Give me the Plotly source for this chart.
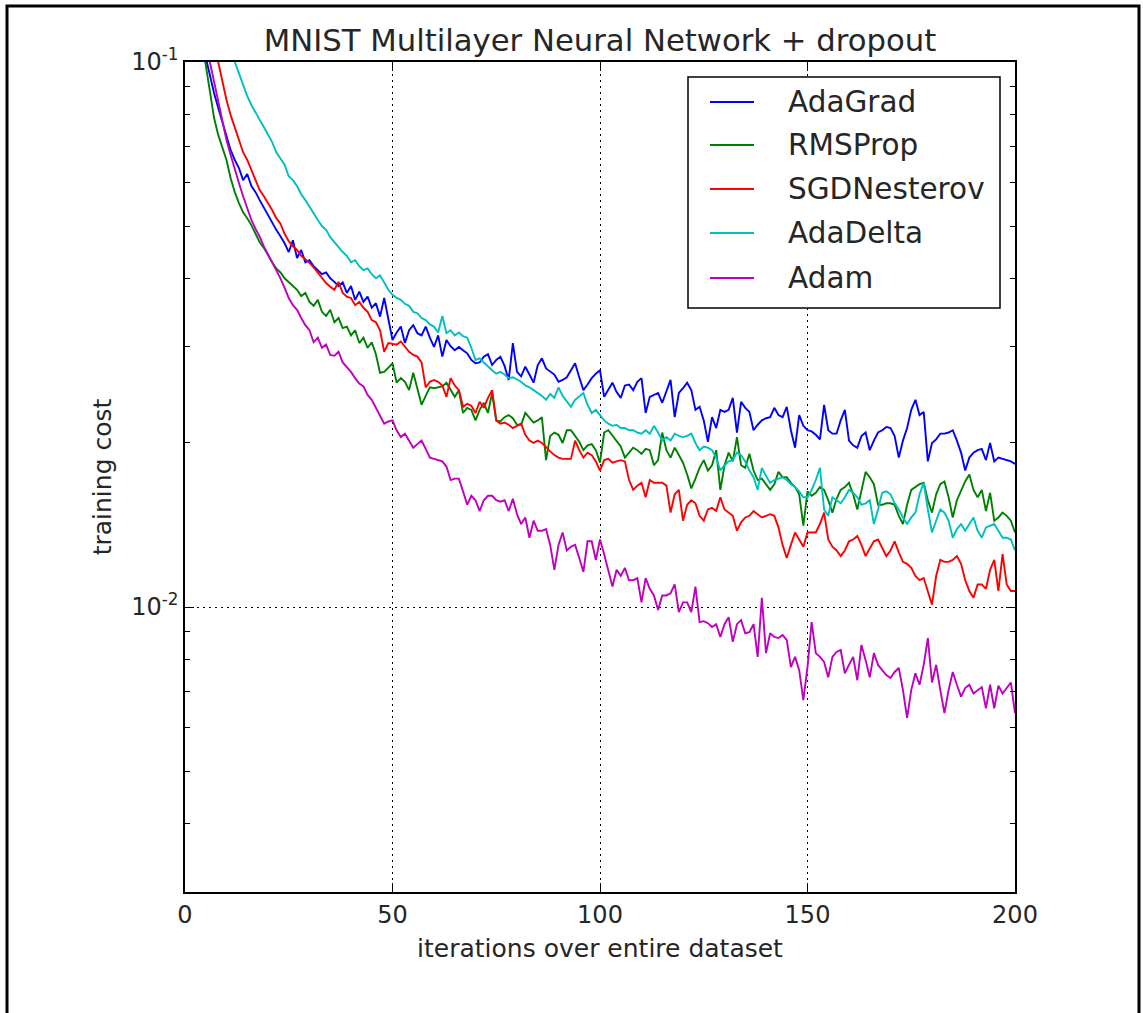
import plotly.graph_objects as go

iterations = list(range(1, 201))

adagrad = [
    0.25, 0.17, 0.13, 0.11, 0.102, 0.0935, 0.0877, 0.0824, 0.0777, 0.0731,
    0.0689, 0.0661, 0.0639, 0.0607, 0.0623, 0.0592, 0.0577, 0.0558, 0.0540, 0.0524,
    0.0509, 0.0492, 0.0479, 0.0465, 0.0448, 0.0471, 0.0437, 0.0452, 0.0429, 0.0433,
    0.0422, 0.0415, 0.0408, 0.0411, 0.0401, 0.0395, 0.0388, 0.0394, 0.0377, 0.0388,
    0.0366, 0.0379, 0.0363, 0.0371, 0.0354, 0.0361, 0.0341, 0.0369, 0.0336, 0.0309,
    0.0319, 0.0327, 0.0305, 0.0322, 0.0329, 0.0318, 0.0315, 0.0327, 0.0312, 0.0300,
    0.0315, 0.0288, 0.0309, 0.0301, 0.0296, 0.0300, 0.0296, 0.0292, 0.0284, 0.0280,
    0.0281, 0.0288, 0.0291, 0.0278, 0.0284, 0.0288, 0.0277, 0.0261, 0.0305, 0.0270,
    0.0265, 0.0276, 0.0267, 0.0258, 0.0278, 0.0286, 0.0274, 0.0270, 0.0267, 0.0259,
    0.0261, 0.0264, 0.0272, 0.0280, 0.0264, 0.0250, 0.0256, 0.0263, 0.0268, 0.0272,
    0.0243, 0.0250, 0.0258, 0.0248, 0.0242, 0.0255, 0.0256, 0.0250, 0.0259, 0.0263,
    0.0227, 0.0243, 0.0245, 0.0247, 0.0237, 0.0248, 0.0261, 0.0223, 0.0247, 0.0252,
    0.0258, 0.0250, 0.0230, 0.0233, 0.0220, 0.0201, 0.0223, 0.0213, 0.0230, 0.0228,
    0.0230, 0.0242, 0.0209, 0.0238, 0.0232, 0.0228, 0.0211, 0.0216, 0.0220, 0.0222,
    0.0223, 0.0232, 0.0225, 0.0223, 0.0233, 0.0211, 0.0196, 0.0225, 0.0215, 0.0211,
    0.0210, 0.0207, 0.0203, 0.0235, 0.0211, 0.0208, 0.0208, 0.0220, 0.0230, 0.0202,
    0.0198, 0.0196, 0.0206, 0.0209, 0.0194, 0.0202, 0.0209, 0.0211, 0.0214, 0.0213,
    0.0206, 0.0188, 0.0202, 0.0213, 0.0230, 0.0240, 0.0225, 0.0228, 0.0185, 0.0200,
    0.0203, 0.0208, 0.0208, 0.0209, 0.0211, 0.0202, 0.0192, 0.0178, 0.0188, 0.0192,
    0.0194, 0.0195, 0.0186, 0.0200, 0.0185, 0.0188, 0.0187, 0.0186, 0.0185, 0.0183,
]

rmsprop = [
    0.3, 0.18, 0.13, 0.108, 0.0988, 0.0881, 0.0790, 0.0735, 0.0695, 0.0661,
    0.0612, 0.0577, 0.0551, 0.0530, 0.0517, 0.0502, 0.0484, 0.0467, 0.0456, 0.0442,
    0.0429, 0.0418, 0.0411, 0.0401, 0.0394, 0.0388, 0.0382, 0.0372, 0.0377, 0.0363,
    0.0357, 0.0366, 0.0348, 0.0342, 0.0351, 0.0333, 0.0339, 0.0325, 0.0327, 0.0315,
    0.0322, 0.0305, 0.0312, 0.0299, 0.0306, 0.0291, 0.0269, 0.0270, 0.0275, 0.0280,
    0.0258, 0.0263, 0.0259, 0.0250, 0.0269, 0.0252, 0.0235, 0.0244, 0.0253, 0.0252,
    0.0253, 0.0254, 0.0258, 0.0250, 0.0243, 0.0250, 0.0227, 0.0232, 0.0230, 0.0220,
    0.0230, 0.0237, 0.0227, 0.0247, 0.0220, 0.0219, 0.0223, 0.0225, 0.0222, 0.0216,
    0.0216, 0.0227, 0.0222, 0.0218, 0.0220, 0.0223, 0.0186, 0.0206, 0.0209, 0.0207,
    0.0200, 0.0211, 0.0211, 0.0206, 0.0201, 0.0194, 0.0198, 0.0199, 0.0194, 0.0184,
    0.0209, 0.0211, 0.0206, 0.0202, 0.0197, 0.0188, 0.0192, 0.0196, 0.0194, 0.0191,
    0.0195, 0.0194, 0.0182, 0.0186, 0.0209, 0.0194, 0.0188, 0.0196, 0.0190, 0.0184,
    0.0175, 0.0165, 0.0172, 0.0180, 0.0186, 0.0178, 0.0182, 0.0194, 0.0164, 0.0182,
    0.0192, 0.0185, 0.0205, 0.0182, 0.0180, 0.0191, 0.0178, 0.0171, 0.0172, 0.0168,
    0.0164, 0.0168, 0.0177, 0.0173, 0.0173, 0.0169, 0.0166, 0.0161, 0.0141, 0.0163,
    0.0160, 0.0162, 0.0166, 0.0164, 0.0157, 0.0149, 0.0158, 0.0164, 0.0166, 0.0169,
    0.0161, 0.0151, 0.0164, 0.0177, 0.0173, 0.0168, 0.0154, 0.0154, 0.0155, 0.0155,
    0.0154, 0.0147, 0.0142, 0.0154, 0.0164, 0.0166, 0.0168, 0.0169, 0.0157, 0.0149,
    0.0161, 0.0168, 0.0170, 0.0159, 0.0146, 0.0157, 0.0164, 0.0170, 0.0175, 0.0164,
    0.0159, 0.0164, 0.0150, 0.0162, 0.0144, 0.0146, 0.0149, 0.0147, 0.0144, 0.0137,
]

sgd_nesterov = [
    0.5, 0.3, 0.2, 0.15, 0.125, 0.112, 0.105, 0.1000, 0.0919, 0.0852,
    0.0799, 0.0757, 0.0719, 0.0683, 0.0661, 0.0634, 0.0607, 0.0582, 0.0567, 0.0551,
    0.0535, 0.0517, 0.0505, 0.0484, 0.0469, 0.0459, 0.0452, 0.0441, 0.0435, 0.0428,
    0.0420, 0.0411, 0.0403, 0.0393, 0.0387, 0.0382, 0.0395, 0.0377, 0.0371, 0.0369,
    0.0358, 0.0363, 0.0354, 0.0348, 0.0336, 0.0333, 0.0322, 0.0294, 0.0305, 0.0304,
    0.0303, 0.0307, 0.0301, 0.0294, 0.0290, 0.0288, 0.0281, 0.0253, 0.0259, 0.0261,
    0.0259, 0.0255, 0.0243, 0.0263, 0.0255, 0.0250, 0.0233, 0.0236, 0.0234, 0.0227,
    0.0238, 0.0232, 0.0242, 0.0250, 0.0220, 0.0217, 0.0218, 0.0216, 0.0213, 0.0215,
    0.0217, 0.0207, 0.0202, 0.0200, 0.0202, 0.0200, 0.0196, 0.0193, 0.0190, 0.0188,
    0.0187, 0.0187, 0.0187, 0.0202, 0.0194, 0.0188, 0.0192, 0.0190, 0.0185, 0.0178,
    0.0186, 0.0187, 0.0184, 0.0185, 0.0186, 0.0185, 0.0171, 0.0164, 0.0167, 0.0169,
    0.0159, 0.0171, 0.0169, 0.0169, 0.0169, 0.0167, 0.0149, 0.0161, 0.0164, 0.0144,
    0.0154, 0.0157, 0.0155, 0.0147, 0.0144, 0.0151, 0.0152, 0.0150, 0.0159, 0.0151,
    0.0149, 0.0147, 0.0138, 0.0143, 0.0146, 0.0147, 0.0150, 0.0148, 0.0146, 0.0147,
    0.0148, 0.0147, 0.0140, 0.0130, 0.0123, 0.0130, 0.0137, 0.0133, 0.0129, 0.0137,
    0.0137, 0.0137, 0.0142, 0.0149, 0.0133, 0.0129, 0.0127, 0.0124, 0.0127, 0.0132,
    0.0133, 0.0135, 0.0130, 0.0124, 0.0128, 0.0132, 0.0133, 0.0128, 0.0124, 0.0127,
    0.0132, 0.0126, 0.0121, 0.0120, 0.0118, 0.0114, 0.0112, 0.0113, 0.0107, 0.0101,
    0.0114, 0.0122, 0.0121, 0.0121, 0.0122, 0.0124, 0.0120, 0.0112, 0.0107, 0.0104,
    0.0110, 0.0110, 0.0108, 0.0117, 0.0122, 0.0107, 0.0125, 0.0110, 0.0107, 0.0107,
]

adadelta = [
    0.5, 0.3, 0.22, 0.18, 0.16, 0.145, 0.132, 0.122, 0.114, 0.108,
    0.103, 0.1000, 0.0952, 0.0908, 0.0866, 0.0834, 0.0806, 0.0783, 0.0760, 0.0738,
    0.0713, 0.0683, 0.0667, 0.0648, 0.0617, 0.0607, 0.0592, 0.0572, 0.0558, 0.0542,
    0.0528, 0.0513, 0.0500, 0.0492, 0.0477, 0.0467, 0.0456, 0.0448, 0.0441, 0.0429,
    0.0433, 0.0422, 0.0415, 0.0418, 0.0408, 0.0401, 0.0406, 0.0394, 0.0382, 0.0374,
    0.0369, 0.0366, 0.0360, 0.0357, 0.0348, 0.0346, 0.0339, 0.0336, 0.0330, 0.0327,
    0.0319, 0.0342, 0.0318, 0.0322, 0.0315, 0.0319, 0.0314, 0.0312, 0.0299, 0.0284,
    0.0286, 0.0281, 0.0277, 0.0272, 0.0268, 0.0270, 0.0267, 0.0263, 0.0264, 0.0261,
    0.0259, 0.0255, 0.0253, 0.0250, 0.0247, 0.0244, 0.0240, 0.0246, 0.0242, 0.0253,
    0.0244, 0.0238, 0.0233, 0.0240, 0.0244, 0.0247, 0.0235, 0.0227, 0.0230, 0.0225,
    0.0220, 0.0217, 0.0215, 0.0216, 0.0213, 0.0213, 0.0211, 0.0211, 0.0209, 0.0208,
    0.0211, 0.0208, 0.0215, 0.0209, 0.0202, 0.0205, 0.0202, 0.0208, 0.0206, 0.0205,
    0.0206, 0.0208, 0.0200, 0.0194, 0.0197, 0.0196, 0.0194, 0.0188, 0.0178, 0.0182,
    0.0185, 0.0186, 0.0192, 0.0190, 0.0185, 0.0178, 0.0173, 0.0164, 0.0180, 0.0174,
    0.0169, 0.0171, 0.0172, 0.0173, 0.0171, 0.0168, 0.0166, 0.0163, 0.0159, 0.0159,
    0.0164, 0.0171, 0.0180, 0.0151, 0.0147, 0.0159, 0.0157, 0.0155, 0.0159, 0.0164,
    0.0162, 0.0159, 0.0154, 0.0155, 0.0157, 0.0142, 0.0151, 0.0162, 0.0163, 0.0161,
    0.0155, 0.0151, 0.0146, 0.0142, 0.0146, 0.0149, 0.0161, 0.0169, 0.0151, 0.0137,
    0.0144, 0.0151, 0.0149, 0.0144, 0.0134, 0.0139, 0.0142, 0.0138, 0.0142, 0.0146,
    0.0138, 0.0134, 0.0140, 0.0141, 0.0142, 0.0138, 0.0134, 0.0134, 0.0133, 0.0127,
]

adam = [
    0.3, 0.2, 0.14, 0.115, 0.104, 0.1000, 0.0919, 0.0841, 0.0777, 0.0719,
    0.0675, 0.0634, 0.0600, 0.0567, 0.0540, 0.0513, 0.0494, 0.0478, 0.0459, 0.0444,
    0.0428, 0.0415, 0.0401, 0.0385, 0.0369, 0.0358, 0.0351, 0.0339, 0.0329, 0.0322,
    0.0306, 0.0312, 0.0299, 0.0303, 0.0290, 0.0289, 0.0294, 0.0281, 0.0276, 0.0270,
    0.0263, 0.0257, 0.0254, 0.0245, 0.0240, 0.0232, 0.0223, 0.0217, 0.0219, 0.0220,
    0.0211, 0.0205, 0.0208, 0.0202, 0.0196, 0.0199, 0.0202, 0.0195, 0.0188, 0.0187,
    0.0186, 0.0185, 0.0181, 0.0171, 0.0172, 0.0172, 0.0163, 0.0154, 0.0160, 0.0157,
    0.0150, 0.0157, 0.0160, 0.0160, 0.0157, 0.0156, 0.0157, 0.0150, 0.0158, 0.0148,
    0.0142, 0.0146, 0.0134, 0.0144, 0.0138, 0.0138, 0.0139, 0.0130, 0.0117, 0.0130,
    0.0137, 0.0127, 0.0129, 0.0130, 0.0123, 0.0116, 0.0132, 0.0132, 0.0122, 0.0133,
    0.0125, 0.0117, 0.0109, 0.0117, 0.0114, 0.0118, 0.0112, 0.0112, 0.0113, 0.0102,
    0.0113, 0.0108, 0.0105, 0.00987, 0.0105, 0.0105, 0.0106, 0.0110, 0.00979, 0.0102,
    0.0102, 0.00979, 0.0109, 0.00938, 0.00942, 0.00934, 0.00919, 0.00930, 0.00881, 0.00930,
    0.00958, 0.00863, 0.00930, 0.00946, 0.00895, 0.00899, 0.00930, 0.00810, 0.0104, 0.00823,
    0.00895, 0.00881, 0.00877, 0.00888, 0.00870, 0.00776, 0.00810, 0.00766, 0.00675, 0.00776,
    0.00938, 0.00823, 0.00810, 0.00793, 0.00743, 0.00810, 0.00827, 0.00834, 0.00756, 0.00783,
    0.00810, 0.00734, 0.00852, 0.00799, 0.00743, 0.00823, 0.00783, 0.00766, 0.00750, 0.00741,
    0.00760, 0.00773, 0.00704, 0.00626, 0.00704, 0.00756, 0.00720, 0.00783, 0.00877, 0.00727,
    0.00783, 0.00704, 0.00639, 0.00704, 0.00760, 0.00720, 0.00685, 0.00710, 0.00720, 0.00694,
    0.00704, 0.00713, 0.00652, 0.00720, 0.00652, 0.00717, 0.00694, 0.00710, 0.00727, 0.00639,
]

series_names = ["AdaGrad", "RMSProp", "SGDNesterov", "AdaDelta", "Adam"]
series_values = [adagrad, rmsprop, sgd_nesterov, adadelta, adam]
series_colors = ["#0000ff", "#008000", "#ff0000", "#00bfbf", "#bf00bf"]

x_tick_values = [0, 50, 100, 150, 200]
x_tick_labels = ["0", "50", "100", "150", "200"]
y_tick_values = [0.01, 0.1]
y_tick_labels = ["10<sup>-2</sup>", "10<sup>-1</sup>"]
y_minor_values = [0.004, 0.005, 0.006, 0.007, 0.008, 0.009,
                  0.02, 0.03, 0.04, 0.05, 0.06, 0.07, 0.08, 0.09]

FONT = "DejaVu Sans"
TXT = "#262626"

# plot-area geometry in pixels (for placing decorations in paper coordinates)
PL, PR, PT, PB = 185, 1015, 62, 892
PW, PH = PR - PL, PB - PT


def px(xp):
    return (xp - PL) / PW


def py(yp):
    return (PB - yp) / PH


fig = go.Figure()
for name, vals, col in zip(series_names, series_values, series_colors):
    fig.add_trace(go.Scatter(
        x=iterations, y=vals, mode="lines", name=name,
        line=dict(color=col, width=1.9),
        showlegend=False,
    ))

fig.update_layout(
    width=1143, height=1013,
    margin=dict(l=PL, r=1143 - PR, t=PT, b=1013 - PB),
    paper_bgcolor="white", plot_bgcolor="white",
    font=dict(family=FONT, color=TXT, size=24),
    title=dict(text="MNIST Multilayer Neural Network + dropout",
               x=0.5, xref="paper", xanchor="center",
               y=1 - 40 / 1013, yref="container", yanchor="middle",
               font=dict(size=30.7, family=FONT, color=TXT)),
    showlegend=False,
)

fig.update_xaxes(
    range=[0, 200], tickvals=x_tick_values, ticktext=x_tick_labels,
    ticks="inside", ticklen=9, tickwidth=1.2, tickcolor="black",
    showline=True, linecolor="black", linewidth=1.5, mirror="allticks",
    showgrid=True, gridcolor="black", gridwidth=1, griddash="2px,4px",
    zeroline=False,
    tickfont=dict(size=24, family=FONT, color=TXT),
    title=dict(text="iterations over entire dataset", standoff=12,
               font=dict(size=25, family=FONT, color=TXT)),
)

fig.update_yaxes(
    type="log", range=[-2.5229, -1],
    tickvals=y_tick_values, ticktext=y_tick_labels,
    ticks="inside", ticklen=9, tickwidth=1.2, tickcolor="black",
    showline=True, linecolor="black", linewidth=1.5, mirror="allticks",
    showgrid=True, gridcolor="black", gridwidth=1, griddash="2px,4px",
    zeroline=False,
    minor=dict(tickvals=y_minor_values, ticks="inside", ticklen=5,
               tickwidth=1, tickcolor="black", showgrid=False),
    tickfont=dict(size=24, family=FONT, color=TXT),
    title=dict(text="training cost", standoff=12,
               font=dict(size=25, family=FONT, color=TXT)),
)

# legend box (drawn manually to match the original layout)
fig.add_shape(type="rect", xref="paper", yref="paper",
              x0=px(688), x1=px(1000), y0=py(308), y1=py(77),
              line=dict(color="black", width=1.5), fillcolor="white",
              layer="above")
legend_rows = [102, 145, 189, 233, 278]
for name, col, ry in zip(series_names, series_colors, legend_rows):
    fig.add_shape(type="line", xref="paper", yref="paper",
                  x0=px(710), x1=px(754), y0=py(ry), y1=py(ry),
                  line=dict(color=col, width=2), layer="above")
    fig.add_annotation(text=name, xref="paper", yref="paper",
                       x=px(786), y=py(ry), xanchor="left", yanchor="middle",
                       showarrow=False,
                       font=dict(size=29.5, family=FONT, color=TXT))

# outer frame around the whole figure
fig.add_shape(type="rect", xref="paper", yref="paper",
              x0=px(7), x1=px(1139), y0=py(1030), y1=py(6),
              line=dict(color="black", width=3), fillcolor="rgba(0,0,0,0)",
              layer="above")

fig.write_html("out.html")
